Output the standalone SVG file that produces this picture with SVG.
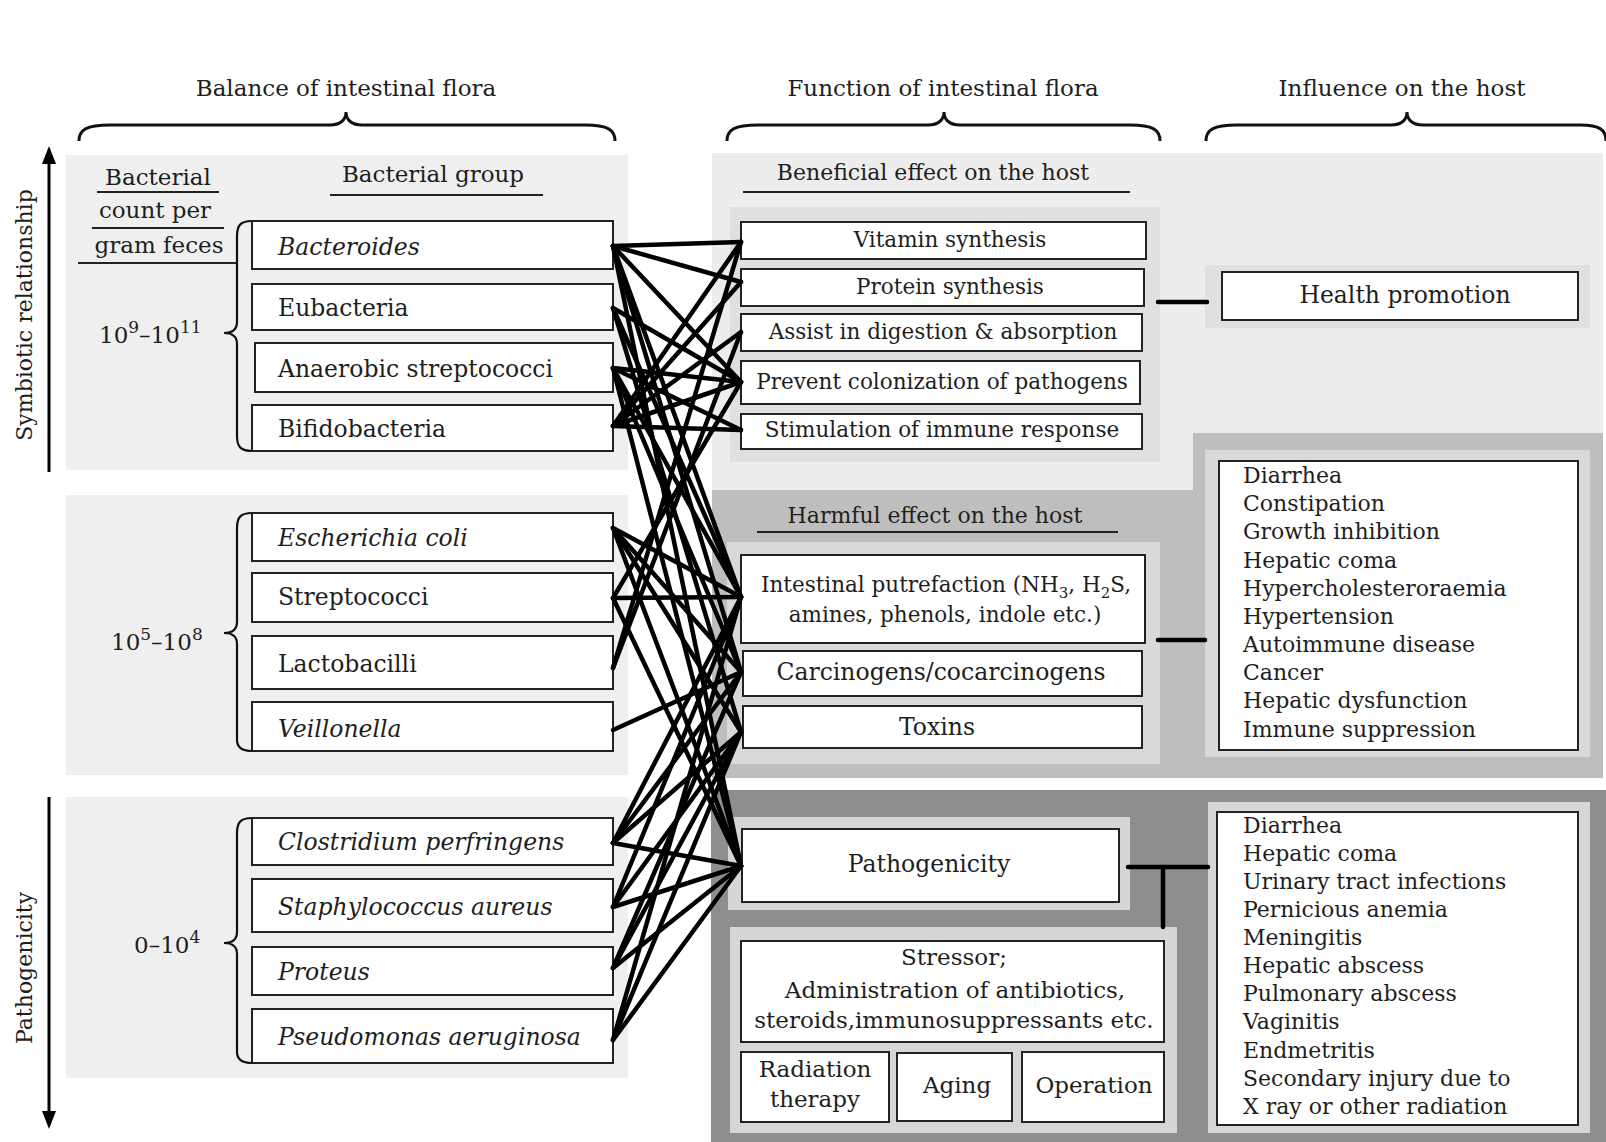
<svg xmlns="http://www.w3.org/2000/svg" width="1606" height="1142" viewBox="0 0 1606 1142">
<style>
text{font-family:"DejaVu Serif","Liberation Serif",serif;fill:#1e1e1e}
.hdr{font-size:23px;text-anchor:middle}
.side{font-size:22px;text-anchor:middle}
.lab{font-size:23.5px}
.it{font-style:italic}
.cnt{font-size:23px}
.sup{font-size:17px}
.mid{font-size:21.5px;text-anchor:middle}
.big{font-size:23.5px;text-anchor:middle}
.dis{font-size:22px}
.box{fill:#fff;stroke:#222;stroke-width:2}
.ul{stroke:#222;stroke-width:2}
.brace{fill:none;stroke:#111;stroke-width:3}
.vbrace{fill:none;stroke:#111;stroke-width:2.2}
.con line{stroke:#000;stroke-width:4.5;stroke-linecap:round}
.bar{stroke:#000;stroke-width:5}
</style>
<rect width="1606" height="1142" fill="#fff"/>

<!-- background panels -->
<g id="panels">
<rect x="66" y="155" width="562" height="315" fill="#efefef"/>
<rect x="66" y="495" width="562" height="280" fill="#efefef"/>
<rect x="66" y="797" width="562" height="281" fill="#efefef"/>
<rect x="712" y="153" width="891" height="340" fill="#ededed"/>
<rect x="730" y="207" width="430" height="255" fill="#e0e0e0"/>
<rect x="1205" y="265" width="385" height="63" fill="#e0e0e0"/>
<path d="M712,490 L1193,490 L1193,433 L1603,433 L1603,778 L712,778 Z" fill="#bebebe"/>
<rect x="727" y="542" width="433" height="222" fill="#d9d9d9"/>
<rect x="1205" y="450" width="385" height="307" fill="#d9d9d9"/>
<rect x="711" y="790" width="895" height="352" fill="#8e8e8e"/>
<rect x="728" y="817" width="402" height="93" fill="#d6d6d6"/>
<rect x="730" y="927" width="447" height="206" fill="#d6d6d6"/>
<rect x="1208" y="802" width="382" height="331" fill="#d6d6d6"/>
</g>

<!-- headers and braces -->
<g id="headers">
<text class="hdr" x="346" y="96">Balance of intestinal flora</text>
<text class="hdr" x="943" y="96">Function of intestinal flora</text>
<text class="hdr" x="1402" y="96">Influence on the host</text>
<path class="brace" d="M79,141 C79,130 86,125 110,125 L330,125 C340,125 346,120 346,112 C346,120 352,125 362,125 L585,125 C608,125 615,130 615,141"/>
<path class="brace" d="M727,141 C727,130 734,125 758,125 L928,125 C938,125 944,120 944,112 C944,120 950,125 960,125 L1130,125 C1153,125 1160,130 1160,141"/>
<path class="brace" d="M1206,141 C1206,130 1213,125 1237,125 L1391,125 C1401,125 1407,120 1407,112 C1407,120 1413,125 1423,125 L1580,125 C1600,125 1606,130 1606,141"/>
</g>

<!-- side axis labels -->
<g id="axis-symbiotic">
<line x1="49" y1="472" x2="49" y2="160" stroke="#000" stroke-width="3"/>
<polygon points="49,146 42,164 56,164" fill="#000"/>
<text class="side" transform="translate(32,315) rotate(-90)">Symbiotic relationship</text>
</g>
<g id="axis-pathogenicity">
<line x1="49" y1="797" x2="49" y2="1114" stroke="#000" stroke-width="3"/>
<polygon points="49,1129 42,1111 56,1111" fill="#000"/>
<text class="side" transform="translate(32,968) rotate(-90)">Pathogenicity</text>
</g>

<!-- left column headings -->
<g id="col-heads">
<text class="cnt" x="158" y="185" text-anchor="middle">Bacterial</text>
<line class="ul" x1="97" y1="192" x2="219" y2="192"/>
<text class="cnt" x="155" y="218" text-anchor="middle">count per</text>
<line class="ul" x1="92" y1="228" x2="224" y2="228"/>
<text class="cnt" x="159" y="253" text-anchor="middle">gram feces</text>
<line class="ul" x1="78" y1="263" x2="236" y2="263"/>
<text class="cnt" x="433" y="182" text-anchor="middle">Bacterial group</text>
<line class="ul" x1="330" y1="195" x2="543" y2="195"/>
</g>

<!-- group 1: 10^9-10^11 -->
<g id="count-high">
<text class="cnt" x="99" y="343">10<tspan class="sup" dy="-10">9</tspan><tspan dy="10">–10</tspan><tspan class="sup" dy="-10">11</tspan></text>
<path class="vbrace" d="M252,221 C241,221 237,225 237,236 L237,322 C237,329 233,333 224,333 C233,333 237,337 237,344 L237,436 C237,447 241,451 252,451"/>
</g>
<g id="bacteroides"><rect class="box" x="252" y="221" width="361" height="48"/><text class="lab it" x="278" y="255">Bacteroides</text></g>
<g id="eubacteria"><rect class="box" x="252" y="284" width="361" height="46"/><text class="lab" x="278" y="316">Eubacteria</text></g>
<g id="anaerobic-streptococci"><rect class="box" x="255" y="343" width="358" height="49"/><text class="lab" x="278" y="377">Anaerobic streptococci</text></g>
<g id="bifidobacteria"><rect class="box" x="252" y="405" width="361" height="46"/><text class="lab" x="278" y="437">Bifidobacteria</text></g>

<!-- group 2: 10^5-10^8 -->
<g id="count-mid">
<text class="cnt" x="111" y="650">10<tspan class="sup" dy="-10">5</tspan><tspan dy="10">–10</tspan><tspan class="sup" dy="-10">8</tspan></text>
<path class="vbrace" d="M252,513 C241,513 237,517 237,528 L237,622 C237,629 233,633 224,633 C233,633 237,637 237,644 L237,740 C237,747 241,751 252,751"/>
</g>
<g id="escherichia-coli"><rect class="box" x="252" y="513" width="361" height="48"/><text class="lab it" x="278" y="546">Escherichia coli</text></g>
<g id="streptococci"><rect class="box" x="252" y="573" width="361" height="49"/><text class="lab" x="278" y="605">Streptococci</text></g>
<g id="lactobacilli"><rect class="box" x="252" y="636" width="361" height="53"/><text class="lab" x="278" y="672">Lactobacilli</text></g>
<g id="veillonella"><rect class="box" x="252" y="702" width="361" height="49"/><text class="lab it" x="278" y="737">Veillonella</text></g>

<!-- group 3: 0-10^4 -->
<g id="count-low">
<text class="cnt" x="134" y="953">0–10<tspan class="sup" dy="-10">4</tspan></text>
<path class="vbrace" d="M252,818 C241,818 237,822 237,833 L237,932 C237,939 233,943 224,943 C233,943 237,947 237,954 L237,1052 C237,1059 241,1063 252,1063"/>
</g>
<g id="clostridium"><rect class="box" x="252" y="818" width="361" height="47"/><text class="lab it" x="278" y="850">Clostridium perfringens</text></g>
<g id="staphylococcus"><rect class="box" x="252" y="879" width="361" height="53"/><text class="lab it" x="278" y="915">Staphylococcus aureus</text></g>
<g id="proteus"><rect class="box" x="252" y="947" width="361" height="48"/><text class="lab it" x="278" y="980">Proteus</text></g>
<g id="pseudomonas"><rect class="box" x="252" y="1009" width="361" height="54"/><text class="lab it" x="278" y="1045">Pseudomonas aeruginosa</text></g>

<!-- beneficial -->
<g id="beneficial-title">
<text class="mid" x="933" y="180" style="font-size:22px">Beneficial effect on the host</text>
<line class="ul" x1="743" y1="192" x2="1130" y2="192"/>
</g>
<g id="vitamin"><rect class="box" x="741" y="222" width="405" height="37"/><text class="mid" x="950" y="247">Vitamin synthesis</text></g>
<g id="protein"><rect class="box" x="741" y="269" width="403" height="37"/><text class="mid" x="950" y="294">Protein synthesis</text></g>
<g id="assist"><rect class="box" x="741" y="314" width="401" height="37"/><text class="mid" x="943" y="339">Assist in digestion &amp; absorption</text></g>
<g id="prevent"><rect class="box" x="741" y="361" width="399" height="43"/><text class="mid" x="942" y="389">Prevent colonization of pathogens</text></g>
<g id="stimulation"><rect class="box" x="741" y="414" width="401" height="35"/><text class="mid" x="942" y="437">Stimulation of immune response</text></g>
<g id="health-promotion"><rect class="box" x="1222" y="272" width="356" height="48"/><text class="big" x="1405" y="303">Health promotion</text></g>

<!-- harmful -->
<g id="harmful-title">
<text class="mid" x="935" y="523" style="font-size:22px">Harmful effect on the host</text>
<line class="ul" x1="757" y1="532" x2="1118" y2="532"/>
</g>
<g id="putrefaction"><rect class="box" x="741" y="555" width="404" height="88"/>
<text class="mid" x="946" y="592">Intestinal putrefaction (NH<tspan font-size="15" dy="6">3</tspan><tspan dy="-6">, H</tspan><tspan font-size="15" dy="6">2</tspan><tspan dy="-6">S,</tspan></text>
<text class="mid" x="945" y="622">amines, phenols, indole etc.)</text></g>
<g id="carcinogens"><rect class="box" x="743" y="651" width="399" height="45"/><text class="big" x="941" y="680">Carcinogens/cocarcinogens</text></g>
<g id="toxins"><rect class="box" x="743" y="706" width="399" height="42"/><text class="big" x="937" y="735">Toxins</text></g>
<g id="disease-list-1"><rect class="box" x="1219" y="461" width="359" height="289"/>
<text class="dis" x="1243" y="483">Diarrhea</text>
<text class="dis" x="1243" y="511">Constipation</text>
<text class="dis" x="1243" y="539">Growth inhibition</text>
<text class="dis" x="1243" y="568">Hepatic coma</text>
<text class="dis" x="1243" y="596">Hypercholesteroraemia</text>
<text class="dis" x="1243" y="624">Hypertension</text>
<text class="dis" x="1243" y="652">Autoimmune disease</text>
<text class="dis" x="1243" y="680">Cancer</text>
<text class="dis" x="1243" y="708">Hepatic dysfunction</text>
<text class="dis" x="1243" y="737">Immune suppression</text></g>

<!-- pathogenicity -->
<g id="pathogenicity"><rect class="box" x="742" y="829" width="377" height="73"/><text class="big" x="929" y="872">Pathogenicity</text></g>
<g id="stressor"><rect class="box" x="741" y="941" width="423" height="101"/>
<text class="big" x="954" y="965" style="font-size:23px">Stressor;</text>
<text class="big" x="955" y="998" style="font-size:23px">Administration of antibiotics,</text>
<text class="big" x="954" y="1028" style="font-size:23px">steroids,immunosuppressants etc.</text></g>
<g id="radiation"><rect class="box" x="741" y="1052" width="148" height="70"/>
<text class="big" x="815" y="1077" style="font-size:23px">Radiation</text>
<text class="big" x="815" y="1107" style="font-size:23px">therapy</text></g>
<g id="aging"><rect class="box" x="897" y="1053" width="115" height="68"/><text class="big" x="957" y="1093" style="font-size:23px">Aging</text></g>
<g id="operation"><rect class="box" x="1022" y="1052" width="142" height="70"/><text class="big" x="1094" y="1093" style="font-size:23px">Operation</text></g>
<g id="disease-list-2"><rect class="box" x="1217" y="812" width="361" height="313"/>
<text class="dis" x="1243" y="833">Diarrhea</text>
<text class="dis" x="1243" y="861">Hepatic coma</text>
<text class="dis" x="1243" y="889">Urinary tract infections</text>
<text class="dis" x="1243" y="917">Pernicious anemia</text>
<text class="dis" x="1243" y="945">Meningitis</text>
<text class="dis" x="1243" y="973">Hepatic abscess</text>
<text class="dis" x="1243" y="1001">Pulmonary abscess</text>
<text class="dis" x="1243" y="1029">Vaginitis</text>
<text class="dis" x="1243" y="1058">Endmetritis</text>
<text class="dis" x="1243" y="1086">Secondary injury due to</text>
<text class="dis" x="1243" y="1114">X ray or other radiation</text></g>

<!-- connectors -->
<g id="connectors" class="con">
<line x1="613" y1="246" x2="741" y2="242"/>
<line x1="613" y1="246" x2="741" y2="282"/>
<line x1="613" y1="246" x2="741" y2="382"/>
<line x1="613" y1="246" x2="741" y2="597"/>
<line x1="613" y1="246" x2="741" y2="672"/>
<line x1="613" y1="246" x2="741" y2="866"/>
<line x1="613" y1="308" x2="741" y2="382"/>
<line x1="613" y1="308" x2="741" y2="597"/>
<line x1="613" y1="308" x2="741" y2="732"/>
<line x1="613" y1="368" x2="741" y2="382"/>
<line x1="613" y1="368" x2="741" y2="430"/>
<line x1="613" y1="368" x2="741" y2="597"/>
<line x1="613" y1="368" x2="741" y2="672"/>
<line x1="613" y1="368" x2="741" y2="866"/>
<line x1="613" y1="426" x2="741" y2="242"/>
<line x1="613" y1="426" x2="741" y2="332"/>
<line x1="613" y1="426" x2="741" y2="382"/>
<line x1="613" y1="426" x2="741" y2="430"/>
<line x1="613" y1="426" x2="741" y2="282"/>
<line x1="613" y1="528" x2="741" y2="597"/>
<line x1="613" y1="528" x2="741" y2="672"/>
<line x1="613" y1="528" x2="741" y2="732"/>
<line x1="613" y1="528" x2="741" y2="866"/>
<line x1="613" y1="598" x2="741" y2="382"/>
<line x1="613" y1="598" x2="741" y2="597"/>
<line x1="613" y1="598" x2="741" y2="866"/>
<line x1="613" y1="668" x2="741" y2="332"/>
<line x1="613" y1="668" x2="741" y2="242"/>
<line x1="613" y1="730" x2="741" y2="672"/>
<line x1="613" y1="843" x2="741" y2="597"/>
<line x1="613" y1="843" x2="741" y2="672"/>
<line x1="613" y1="843" x2="741" y2="732"/>
<line x1="613" y1="843" x2="741" y2="866"/>
<line x1="613" y1="907" x2="741" y2="597"/>
<line x1="613" y1="907" x2="741" y2="732"/>
<line x1="613" y1="907" x2="741" y2="866"/>
<line x1="613" y1="968" x2="741" y2="672"/>
<line x1="613" y1="968" x2="741" y2="732"/>
<line x1="613" y1="968" x2="741" y2="866"/>
<line x1="613" y1="1040" x2="741" y2="597"/>
<line x1="613" y1="1040" x2="741" y2="732"/>
<line x1="613" y1="1040" x2="741" y2="866"/>
<line class="bar" x1="1158" y1="302" x2="1207" y2="302"/>
<line class="bar" x1="1158" y1="640" x2="1205" y2="640"/>
<line class="bar" x1="1128" y1="867" x2="1208" y2="867"/>
<line class="bar" x1="1163" y1="867" x2="1163" y2="927"/>
</g>
</svg>
